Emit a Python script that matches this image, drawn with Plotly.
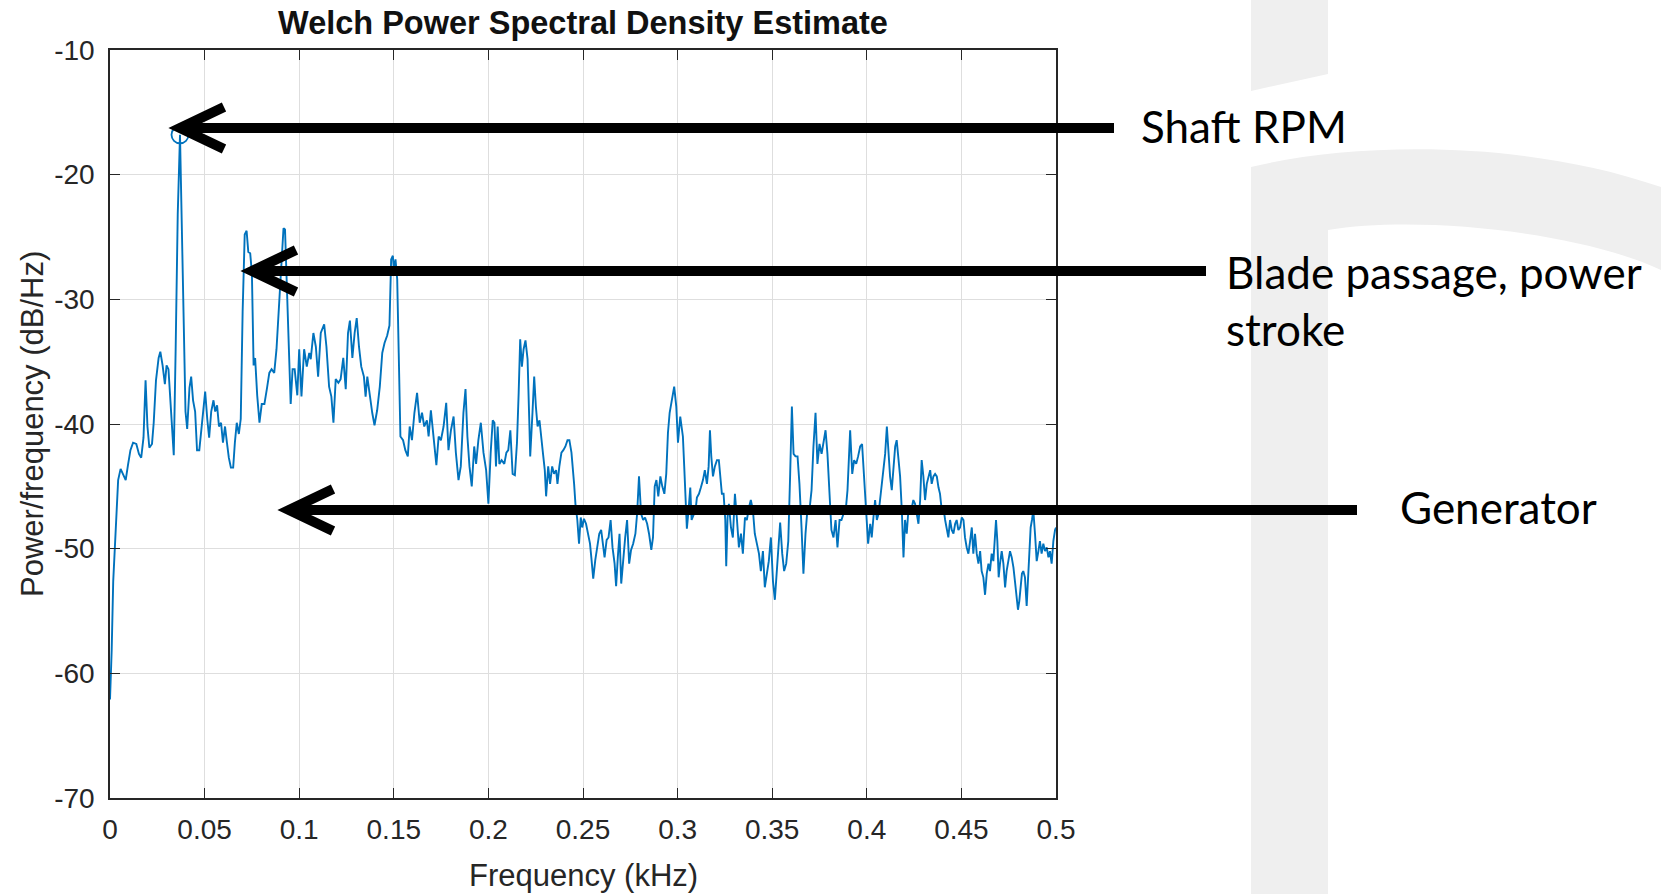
import plotly.graph_objects as go

# Welch PSD estimate (frequency in kHz, power/frequency in dB/Hz)
freq_khz = [
    0.0000, 0.0009, 0.0017, 0.0030, 0.0043, 0.0056, 0.0069, 0.0083, 0.0095, 0.0108,
    0.0122, 0.0139, 0.0153, 0.0165, 0.0177, 0.0188, 0.0198, 0.0208, 0.0222, 0.0231,
    0.0243, 0.0257, 0.0266, 0.0278, 0.0290, 0.0299, 0.0309, 0.0318, 0.0328, 0.0337,
    0.0347, 0.0358, 0.0370, 0.0380, 0.0391, 0.0399, 0.0408, 0.0420, 0.0429, 0.0439,
    0.0450, 0.0460, 0.0472, 0.0484, 0.0495, 0.0503, 0.0514, 0.0524, 0.0535, 0.0547,
    0.0556, 0.0566, 0.0576, 0.0587, 0.0597, 0.0608, 0.0618, 0.0628, 0.0639, 0.0651,
    0.0660, 0.0670, 0.0681, 0.0691, 0.0701, 0.0712, 0.0722, 0.0731, 0.0741, 0.0750,
    0.0759, 0.0767, 0.0778, 0.0790, 0.0802, 0.0816, 0.0830, 0.0842, 0.0854, 0.0868,
    0.0880, 0.0891, 0.0905, 0.0917, 0.0925, 0.0934, 0.0944, 0.0955, 0.0965, 0.0976,
    0.0990, 0.1000,
    0.1012, 0.1026, 0.1040, 0.1053, 0.1061, 0.1075, 0.1088, 0.1100, 0.1114, 0.1132,
    0.1144, 0.1158, 0.1170, 0.1181, 0.1193, 0.1207, 0.1219, 0.1233, 0.1246, 0.1258,
    0.1268, 0.1281, 0.1293, 0.1304, 0.1316, 0.1328, 0.1342, 0.1351, 0.1360, 0.1374,
    0.1386, 0.1398, 0.1412, 0.1426, 0.1439, 0.1451, 0.1465, 0.1477, 0.1486, 0.1495,
    0.1500, 0.1509, 0.1518, 0.1526, 0.1535, 0.1549, 0.1561, 0.1574, 0.1584, 0.1596,
    0.1609, 0.1623, 0.1637, 0.1649, 0.1661, 0.1675, 0.1684, 0.1696, 0.1711, 0.1725,
    0.1737, 0.1749, 0.1763, 0.1777, 0.1789, 0.1802, 0.1816, 0.1828, 0.1842, 0.1854,
    0.1868, 0.1879, 0.1889, 0.1900, 0.1912, 0.1925, 0.1935, 0.1947, 0.1960, 0.1974,
    0.1988, 0.2000, 0.2012, 0.2023,
    0.2032, 0.2040, 0.2049, 0.2058, 0.2070, 0.2084, 0.2095, 0.2105, 0.2116, 0.2128,
    0.2140, 0.2151, 0.2160, 0.2168, 0.2177, 0.2186, 0.2196, 0.2207, 0.2216, 0.2221,
    0.2233, 0.2242, 0.2251, 0.2260, 0.2270, 0.2277, 0.2288, 0.2298, 0.2305, 0.2316,
    0.2326, 0.2337, 0.2347, 0.2358, 0.2365, 0.2375, 0.2386, 0.2396, 0.2407, 0.2418,
    0.2428, 0.2439, 0.2446, 0.2453, 0.2460, 0.2470, 0.2479, 0.2488, 0.2496, 0.2505,
    0.2516, 0.2526, 0.2537, 0.2544, 0.2554, 0.2565, 0.2575, 0.2586, 0.2596, 0.2607,
    0.2614, 0.2625, 0.2635, 0.2646, 0.2656, 0.2667, 0.2675, 0.2684, 0.2693, 0.2702,
    0.2712, 0.2723, 0.2733, 0.2744, 0.2754, 0.2765, 0.2777, 0.2786, 0.2796, 0.2807,
    0.2818, 0.2828, 0.2839, 0.2849, 0.2861, 0.2870, 0.2879, 0.2888, 0.2898, 0.2909,
    0.2919, 0.2930, 0.2940, 0.2949, 0.2958, 0.2970, 0.2982, 0.2993, 0.3002, 0.3014,
    0.3028,
    0.3035, 0.3044, 0.3049, 0.3058, 0.3067, 0.3074, 0.3085, 0.3095, 0.3102, 0.3113,
    0.3123, 0.3134, 0.3144, 0.3155, 0.3164, 0.3171, 0.3178, 0.3187, 0.3197, 0.3208,
    0.3218, 0.3225, 0.3234, 0.3243, 0.3252, 0.3257, 0.3264, 0.3271, 0.3282, 0.3292,
    0.3303, 0.3313, 0.3324, 0.3335, 0.3345, 0.3356, 0.3366, 0.3377, 0.3387, 0.3398,
    0.3408, 0.3419, 0.3430, 0.3440, 0.3451, 0.3461, 0.3472, 0.3482, 0.3493, 0.3504,
    0.3514, 0.3525, 0.3535, 0.3542, 0.3553, 0.3563, 0.3574, 0.3585, 0.3595, 0.3604,
    0.3613, 0.3623, 0.3634, 0.3644, 0.3655, 0.3665, 0.3676, 0.3687, 0.3697, 0.3708,
    0.3718, 0.3729, 0.3739, 0.3750, 0.3761, 0.3771, 0.3782, 0.3792, 0.3803, 0.3813,
    0.3824, 0.3835, 0.3845, 0.3856, 0.3866, 0.3877, 0.3887, 0.3898, 0.3912, 0.3923,
    0.3933, 0.3944, 0.3954, 0.3965, 0.3975, 0.3986, 0.3996, 0.4007,
    0.4018, 0.4026, 0.4035, 0.4044, 0.4053, 0.4062, 0.4070, 0.4079, 0.4088, 0.4097,
    0.4106, 0.4114, 0.4123, 0.4132, 0.4141, 0.4150, 0.4158, 0.4167, 0.4176, 0.4185,
    0.4194, 0.4202, 0.4211, 0.4220, 0.4229, 0.4238, 0.4246, 0.4255, 0.4264, 0.4273,
    0.4282, 0.4290, 0.4299, 0.4308, 0.4317, 0.4326, 0.4335, 0.4343, 0.4352, 0.4361,
    0.4370, 0.4379, 0.4387, 0.4396, 0.4405, 0.4414, 0.4423, 0.4431, 0.4440, 0.4449,
    0.4458, 0.4467, 0.4475, 0.4484, 0.4493, 0.4502, 0.4511, 0.4519, 0.4528, 0.4537,
    0.4546, 0.4555, 0.4563, 0.4572, 0.4581, 0.4590, 0.4599, 0.4607, 0.4616, 0.4625,
    0.4634, 0.4643, 0.4651, 0.4660, 0.4669, 0.4678, 0.4683, 0.4690, 0.4697, 0.4704,
    0.4713, 0.4722, 0.4731, 0.4739, 0.4748, 0.4757, 0.4766, 0.4775, 0.4783, 0.4792,
    0.4799, 0.4806, 0.4813, 0.4820, 0.4827, 0.4836, 0.4845, 0.4852, 0.4859, 0.4866,
    0.4873, 0.4880, 0.4889, 0.4898, 0.4907, 0.4915, 0.4924, 0.4933, 0.4942, 0.4951,
    0.4960, 0.4968, 0.4977, 0.4986, 0.4995, 0.5000,
]

psd_db = [
    -62.1, -58.1, -52.6, -47.9, -44.5, -43.6, -44.1, -44.5, -43.3, -42.1,
    -41.5, -41.6, -42.4, -42.7, -41.1, -36.5, -40.2, -41.9, -41.6, -39.9,
    -36.5, -34.7, -34.2, -35.3, -36.8, -35.3, -35.6, -37.7, -39.9, -42.5,
    -34.0, -23.2, -16.8, -24.2, -34.7, -39.0, -40.4, -37.1, -36.2, -38.1,
    -39.0, -42.1, -42.1, -40.2, -38.4, -37.4, -39.6, -41.1, -39.0, -38.1,
    -39.0, -38.5, -40.2, -39.9, -41.5, -40.2, -41.5, -42.7, -43.5, -43.5,
    -41.5, -39.9, -40.8, -39.6, -31.0, -24.8, -24.5, -26.2, -26.3, -27.9,
    -35.3, -34.7, -37.7, -39.9, -38.4, -38.4, -37.1, -35.9, -35.6, -35.9,
    -34.0, -31.0, -27.5, -24.3, -24.4, -28.5, -34.0, -38.4, -35.6, -35.6,
    -37.7, -34.0,
    -37.8, -34.0, -35.4, -34.3, -34.8, -32.7, -33.8, -36.2, -32.7, -32.0,
    -33.8, -37.0, -37.8, -39.9, -36.4, -36.7, -36.4, -34.7, -37.2, -32.7,
    -31.7, -34.7, -32.7, -31.5, -33.8, -35.4, -36.2, -37.8, -36.2, -38.0,
    -39.1, -40.1, -38.9, -37.0, -34.3, -33.5, -32.9, -32.1, -26.8, -26.5,
    -27.6, -26.8, -28.4, -34.3, -41.0, -41.3, -42.1, -42.6, -40.2, -41.3,
    -39.1, -37.5, -39.9, -39.1, -40.2, -39.7, -41.0, -38.9, -41.3, -43.3,
    -41.0, -41.3, -40.2, -38.3, -42.1, -40.5, -39.4, -42.3, -44.5, -43.4,
    -39.1, -37.2, -41.0, -43.4, -45.0, -41.8, -43.2, -41.3, -39.9, -42.3,
    -43.7, -46.4, -42.3, -39.7,
    -39.9, -43.4, -40.2, -43.2, -42.9, -43.2, -42.3, -42.1, -40.5, -44.0,
    -44.1, -41.5, -37.5, -33.2, -35.4, -34.0, -33.3, -34.8, -39.7, -42.6,
    -39.1, -36.2, -38.6, -40.2, -39.7, -41.0, -42.3, -43.7, -45.8, -43.4,
    -44.8, -43.4, -44.0, -43.7, -44.8, -43.4, -42.3, -42.1, -41.8, -41.3,
    -41.3, -42.3, -44.0, -44.8, -46.4, -47.7, -49.6, -47.5, -48.3, -47.6,
    -48.0, -48.8, -49.6, -50.7, -52.4, -50.9, -49.9, -48.8, -48.5, -49.6,
    -50.7, -49.3, -49.1, -47.7, -49.9, -51.2, -53.0, -50.7, -48.8, -52.8,
    -50.7, -49.1, -47.7, -51.2, -50.1, -49.6, -48.8, -47.2, -44.2, -47.2,
    -47.7, -47.5, -48.0, -48.8, -50.1, -49.1, -45.0, -44.5, -45.8, -44.2,
    -45.0, -45.6, -44.0, -40.7, -39.1, -38.0, -37.0, -38.6, -41.5, -39.4,
    -41.0,
    -43.4, -46.1, -48.4, -46.9, -45.1, -47.7, -47.2, -46.9, -45.9, -45.6,
    -45.1, -44.5, -43.7, -44.8, -43.4, -40.5, -42.6, -44.2, -43.4, -42.9,
    -42.9, -44.2, -45.6, -45.6, -47.7, -51.4, -47.5, -46.4, -48.3, -49.1,
    -45.6, -47.5, -49.9, -48.8, -50.4, -47.5, -47.7, -46.7, -46.1, -46.9,
    -48.8, -49.6, -50.4, -51.8, -50.2, -53.1, -52.0, -51.0, -49.1, -52.6,
    -54.1, -51.5, -48.8, -47.9, -50.4, -51.8, -51.2, -49.4, -44.0, -38.6,
    -42.4, -42.6, -42.6, -44.8, -48.3, -52.0, -48.8, -46.7, -46.9, -45.3,
    -41.8, -39.1, -43.2, -41.6, -42.4, -41.3, -40.5, -42.4, -45.6, -48.5,
    -49.1, -47.7, -49.9, -47.7, -47.7, -47.2, -47.2, -45.3, -40.5, -44.0,
    -42.9, -43.2, -42.6, -41.8, -41.6, -44.2, -47.5, -49.6,
    -48.0, -49.1, -47.5, -46.1, -47.7, -47.2, -46.1, -44.8, -44.0, -42.4,
    -40.2, -42.4, -44.2, -45.3, -43.2, -41.8, -41.3, -42.9, -44.2, -46.9,
    -50.7, -47.7, -48.8, -46.9, -47.2, -46.7, -46.1, -46.4, -47.2, -48.0,
    -46.1, -42.9, -44.2, -46.1, -44.8, -44.2, -43.7, -44.8, -44.2, -44.0,
    -44.2, -45.1, -45.6, -46.9, -46.7, -47.7, -48.5, -49.1, -47.7, -48.5,
    -48.8, -48.0, -47.7, -48.5, -48.3, -47.5, -47.7, -49.1, -49.9, -50.4,
    -49.4, -48.3, -50.4, -48.8, -50.4, -51.2, -50.2, -51.8, -52.3, -53.7,
    -52.0, -51.2, -51.8, -50.4, -51.0, -48.8, -47.7, -49.4, -52.3, -51.2,
    -50.2, -51.2, -53.1, -51.8, -51.0, -50.2, -50.7, -51.5, -52.6, -53.7,
    -54.9, -54.2, -52.8, -52.0, -51.8, -52.3, -54.6, -52.3, -49.9, -48.3,
    -47.7, -46.9, -48.8, -51.0, -50.2, -49.4, -50.4, -49.6, -50.2, -49.9,
    -50.7, -50.2, -51.2, -49.4, -48.5, -48.3,
]

# Marked maximum (shaft rotation frequency)
peak_freq = 0.0370
peak_db = -16.8

x_tick_vals = [0, 0.05, 0.1, 0.15, 0.2, 0.25, 0.3, 0.35, 0.4, 0.45, 0.5]
x_tick_text = ["0", "0.05", "0.1", "0.15", "0.2", "0.25", "0.3", "0.35", "0.4", "0.45", "0.5"]
y_tick_vals = [-70, -60, -50, -40, -30, -20, -10]
y_tick_text = ["-70", "-60", "-50", "-40", "-30", "-20", "-10"]

callout_text = ["Shaft RPM", "Blade passage, power<br>stroke", "Generator"]

# ---- page geometry (pixels) ----
W, H = 1661, 894
L, R, T, B = 110, 1056, 50, 798  # plot-area edges


def px(xp):
    return (xp - L) / (R - L)


def py(yp):
    return (B - yp) / (B - T)


AXIS_FONT = "Liberation Sans, Arial, Helvetica, sans-serif"
NOTE_FONT = "Lato, Open Sans, sans-serif"
AX_COLOR = "#262626"
BLUE = "#0072BD"

fig = go.Figure()

fig.add_trace(go.Scatter(
    x=freq_khz, y=psd_db, mode="lines",
    line=dict(color=BLUE, width=1.9),
    hoverinfo="x+y", showlegend=False,
))
fig.add_trace(go.Scatter(
    x=[peak_freq], y=[peak_db], mode="markers",
    marker=dict(symbol="circle-open", size=17, color=BLUE, line=dict(width=1.8, color=BLUE)),
    showlegend=False,
))

axis_common = dict(
    ticks="inside", ticklen=10, tickwidth=1.2, tickcolor=AX_COLOR,
    showline=True, linecolor=AX_COLOR, linewidth=1.5, mirror="ticks",
    showgrid=True, gridcolor="#dedede", gridwidth=1, zeroline=False,
    tickfont=dict(family=AXIS_FONT, size=28, color=AX_COLOR),
)

fig.update_xaxes(range=[0, 0.5], tickvals=x_tick_vals, ticktext=x_tick_text,
                 ticklabelstandoff=6, **axis_common)
fig.update_yaxes(range=[-70, -10], tickvals=y_tick_vals, ticktext=y_tick_text,
                 ticklabelstandoff=8, **axis_common)

# ---- light background emblem on the right ----
shapes = []
emblem = "#efefef"
top_piece = (f"M {px(1251)},{py(0)} L {px(1328)},{py(0)} L {px(1328)},{py(74)} "
             f"L {px(1251)},{py(91)} Z")
stem_arc = (f"M {px(1251)},{py(900)} L {px(1251)},{py(167)} "
            f"C {px(1350)},{py(143)} {px(1520)},{py(138)} {px(1661)},{py(187)} "
            f"L {px(1661)},{py(270)} "
            f"C {px(1580)},{py(232)} {px(1420)},{py(215)} {px(1328)},{py(230)} "
            f"L {px(1328)},{py(900)} Z")
for path in (top_piece, stem_arc):
    shapes.append(dict(type="path", path=path, xref="paper", yref="paper",
                       fillcolor=emblem, line=dict(width=0), layer="below"))

# ---- call-out arrows ----
arrows = [
    # tip x, tip y, tail x
    (180, 128, 1114),
    (252, 271, 1206),
    (289, 510, 1357),
]
for tx, ty, ex in arrows:
    shapes.append(dict(type="line", xref="paper", yref="paper",
                       x0=px(tx + 4), y0=py(ty), x1=px(ex), y1=py(ty),
                       line=dict(color="black", width=10)))
    head = (f"M {px(tx + 44)},{py(ty - 21)} L {px(tx)},{py(ty)} "
            f"L {px(tx + 44)},{py(ty + 21)}")
    shapes.append(dict(type="path", path=head, xref="paper", yref="paper",
                       line=dict(color="black", width=10)))

annotations = [
    dict(text=callout_text[0], x=px(1139), y=py(126), xanchor="left", yanchor="middle"),
    dict(text=callout_text[1], x=px(1224), y=py(300), xanchor="left", yanchor="middle",
         align="left"),
    dict(text=callout_text[2], x=px(1398), y=py(507), xanchor="left", yanchor="middle"),
]
for a in annotations:
    a.update(xref="paper", yref="paper", showarrow=False,
             font=dict(family=NOTE_FONT, size=44, color="black"))

# axis titles
annotations.append(dict(text="Frequency (kHz)", x=0.5, y=py(875), xref="paper", yref="paper",
                        xanchor="center", yanchor="middle", showarrow=False,
                        font=dict(family=AXIS_FONT, size=31, color=AX_COLOR)))
annotations.append(dict(text="Power/frequency (dB/Hz)", x=px(32), y=0.5, xref="paper",
                        yref="paper", xanchor="center", yanchor="middle", textangle=-90,
                        showarrow=False,
                        font=dict(family=AXIS_FONT, size=31, color=AX_COLOR)))

fig.update_layout(
    width=W, height=H,
    margin=dict(l=L, r=W - R, t=T, b=H - B, pad=0),
    paper_bgcolor="white", plot_bgcolor="white",
    showlegend=False,
    title=dict(text="<b>Welch Power Spectral Density Estimate</b>",
               x=0.5, xref="paper", xanchor="center",
               y=1 - 23 / H, yref="container", yanchor="middle",
               font=dict(family=AXIS_FONT, size=32.5, color="#111111")),
    shapes=shapes,
    annotations=annotations,
)

fig.write_html("out.html")
